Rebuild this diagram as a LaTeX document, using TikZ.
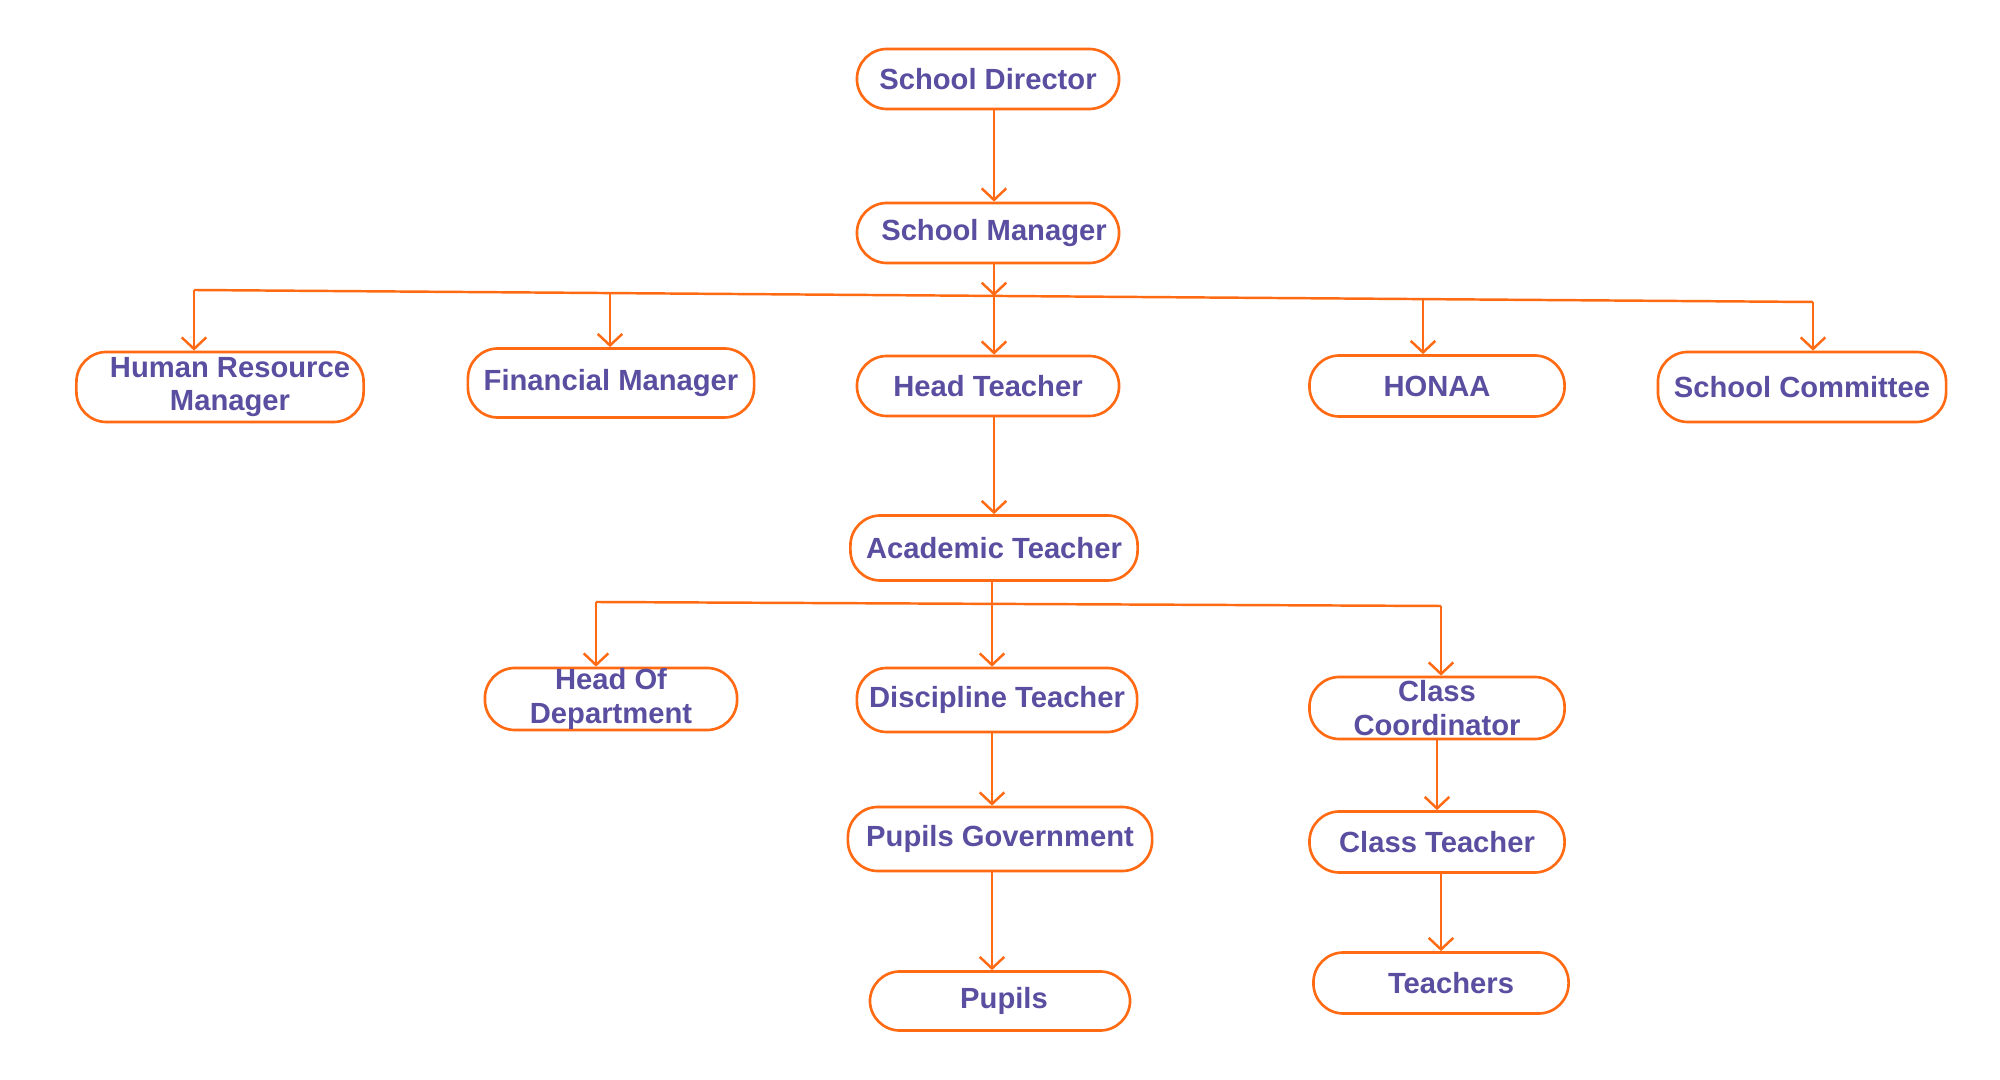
\documentclass[tikz,border=0pt]{standalone}
\usepackage{fontspec}
\setmainfont{Liberation Sans}
\usetikzlibrary{arrows.meta, positioning}
\definecolor{orgline}{HTML}{FF6A13}
\definecolor{orgtext}{HTML}{5A4EA0}

\begin{document}
\begin{tikzpicture}[
    x=0.01cm, y=-0.01cm,
    box/.style={draw=orgline, line width=0.75pt, rounded corners=0.3cm,
        inner sep=0pt, align=center, text=orgtext,
        font=\bfseries\fontsize{8.3}{9.6}\selectfont},
    arr/.style={-{Straight Barb[length=3.3pt, width=7pt]}, draw=orgline, line width=0.7pt},
    bus/.style={draw=orgline, line width=0.7pt}
]
\useasboundingbox (0,0) rectangle (2000,1080);
% top of the chart
\node[box, minimum width=2.62cm, minimum height=0.6cm]  (director)   at (988,79)   {School Director};
\node[box, minimum width=2.62cm, minimum height=0.6cm]  (manager)    at (988,233)  {\hspace{0.12cm}School Manager};
% staff under the school manager
\node[box, minimum width=2.87cm, minimum height=0.7cm]  (hrm)        at (220,387)  {\hspace{0.2cm}Human Resource\\\hspace{0.2cm}Manager};
\node[box, minimum width=2.86cm, minimum height=0.69cm] (finance)    at (611,383)  {Financial Manager};
\node[box, minimum width=2.62cm, minimum height=0.6cm]  (headteach)  at (988,386)  {Head Teacher};
\node[box, minimum width=2.55cm, minimum height=0.61cm] (honaa)      at (1437,386) {HONAA};
\node[box, minimum width=2.88cm, minimum height=0.7cm]  (committee)  at (1802,387) {School Committee};
% academic branch
\node[box, minimum width=2.87cm, minimum height=0.65cm] (academic)   at (994,548)  {Academic Teacher};
\node[box, minimum width=2.52cm, minimum height=0.62cm] (hod)        at (611,699)  {Head Of\\Department};
\node[box, minimum width=2.8cm,  minimum height=0.64cm] (discipline) at (997,700)  {Discipline Teacher};
\node[box, minimum width=2.55cm, minimum height=0.62cm] (coord)      at (1437,708) {Class\\Coordinator};
\node[box, minimum width=3.04cm, minimum height=0.64cm] (pupilsgov)  at (1000,839) {Pupils Government};
\node[box, minimum width=2.55cm, minimum height=0.61cm] (classteach) at (1437,842) {Class Teacher};
\node[box, minimum width=2.6cm,  minimum height=0.59cm] (pupils)     at (1000,1001) {\hspace{0.08cm}Pupils};
\node[box, minimum width=2.55cm, minimum height=0.61cm] (teachers)   at (1441,983) {\hspace{0.2cm}Teachers};
% junction points on the two bus lines
\coordinate (b1) at (194,290);
\coordinate (b2) at (610,293);
\coordinate (b3) at (994,296);
\coordinate (b4) at (1423,300);
\coordinate (b5) at (1813,302);
\coordinate (a1) at (596,602);
\coordinate (a2) at (992,604);
\coordinate (a3) at (1441,606);
% director down to manager, manager to the bus
\draw[arr] (director.south -| b3) -- (manager.north -| b3);
\draw[arr] (manager.south -| b3) -- (b3);
\draw[bus] (b1) -- (b5);
\draw[arr] (b1) -- (hrm.north -| b1);
\draw[arr] (b2) -- (finance.north -| b2);
\draw[arr] (b3) -- (headteach.north -| b3);
\draw[arr] (b4) -- (honaa.north -| b4);
\draw[arr] (b5) -- (committee.north -| b5);
% head teacher to academic teacher and its branches
\draw[arr] (headteach.south -| b3) -- (academic.north -| b3);
\draw[bus] (a1) -- (a3);
\draw[arr] (a1) -- (hod.north -| a1);
\draw[arr] (academic.south -| a2) -- (discipline.north -| a2);
\draw[arr] (a3) -- (coord.north -| a3);
\draw[arr] (discipline.south -| a2) -- (pupilsgov.north -| a2);
\draw[arr] (pupilsgov.south -| a2) -- (pupils.north -| a2);
\draw[arr] (coord) -- (classteach);
\draw[arr] (classteach.south -| teachers) -- (teachers.north);
\end{tikzpicture}
\end{document}
